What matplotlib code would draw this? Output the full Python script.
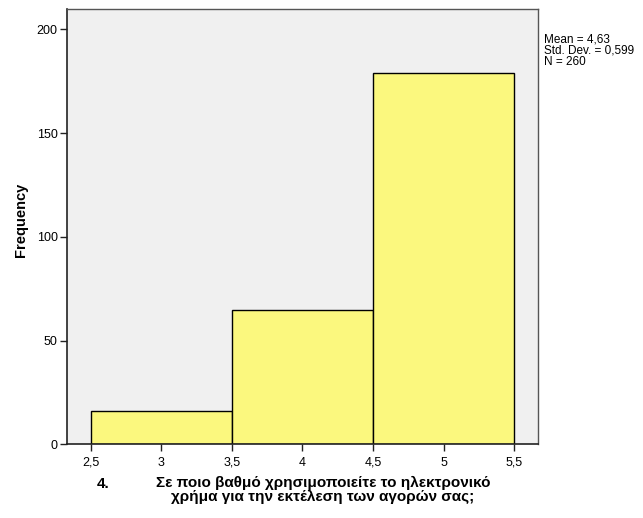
import matplotlib
matplotlib.use("Agg")
import matplotlib.pyplot as plt

plt.rcParams['font.family'] = ['Liberation Sans', 'DejaVu Sans']

# histogram bins (left edges) and counts
bin_edges = [2.5, 3.5, 4.5, 5.5]
counts = [16, 65, 179]
xticks = [2.5, 3, 3.5, 4, 4.5, 5, 5.5]
yticks = [0, 50, 100, 150, 200]
stats_text = "Mean = 4,63\nStd. Dev. = 0,599\nN = 260"
title_num = "4."
title_text = "Σε ποιο βαθμό χρησιμοποιείτε το ηλεκτρονικό\nχρήμα για την εκτέλεση των αγορών σας;"

fig = plt.figure(figsize=[6.43, 5.18], dpi=100)
ax = fig.add_axes([0.1047, 0.1419, 0.7315, 0.8398])
ax.set_facecolor('#f0f0f0')

widths = [bin_edges[i + 1] - bin_edges[i] for i in range(len(counts))]
ax.bar(bin_edges[:-1], counts, width=widths, align='edge',
       color='#fbf87e', edgecolor='black', linewidth=1.0, zorder=2)

ax.set_xlim(2.335, 5.665)
ax.set_ylim(0, 209.5)
ax.set_xticks(xticks)
ax.set_xticklabels([str(t).replace('.', ',') for t in xticks], fontsize=9)
ax.set_yticks(yticks)
ax.set_yticklabels([str(t) for t in yticks], fontsize=9)
ax.tick_params(direction='out', length=5, width=1, color='#222222', pad=2)
ax.tick_params(axis='x', pad=4)

for side in ['left', 'bottom']:
    ax.spines[side].set_color('#222222')
    ax.spines[side].set_linewidth(1.2)
for side in ['top', 'right']:
    ax.spines[side].set_color('#555555')
    ax.spines[side].set_linewidth(1.0)

ax.set_ylabel("Frequency", fontsize=10.5, fontweight='bold')
ax.yaxis.set_label_coords(-0.084, 0.516)

fig.text(97 / 643, 1 - 483.5 / 518, title_num, fontsize=11, fontweight='bold',
         ha='left', va='center')
fig.text(323 / 643, 1 - 490 / 518, title_text, fontsize=11, fontweight='bold',
         ha='center', va='center', linespacing=0.95)

fig.text(544 / 643, 1 - 34 / 518, stats_text, fontsize=8.5, ha='left', va='top',
         linespacing=0.88)

fig.savefig("out.png", dpi=100)
